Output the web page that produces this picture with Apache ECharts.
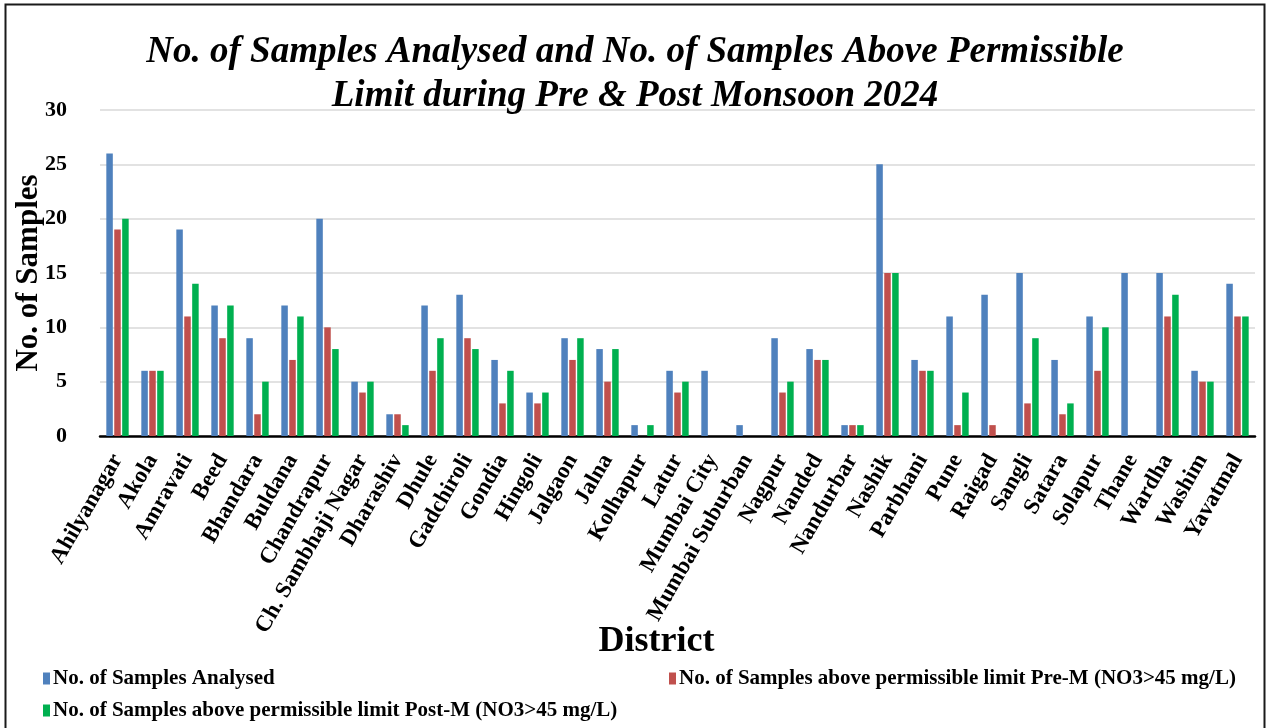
<!DOCTYPE html>
<html>
<head>
<meta charset="utf-8">
<script src="https://cdn.jsdelivr.net/npm/echarts@6/dist/echarts.min.js"></script>
<style>
html,body{margin:0;padding:0;background:#fff;}
#chart{width:1270px;height:728px;}
</style>
</head>
<body>
<div id="chart"></div>
<script>
const districts = ["Ahilyanagar","Akola","Amravati","Beed","Bhandara","Buldana","Chandrapur","Ch. Sambhaji Nagar","Dharashiv","Dhule","Gadchiroli","Gondia","Hingoli","Jalgaon","Jalna","Kolhapur","Latur","Mumbai City","Mumbai Suburban","Nagpur","Nanded","Nandurbar","Nashik","Parbhani","Pune","Raigad","Sangli","Satara","Solapur","Thane","Wardha","Washim","Yavatmal"];
const analysed = [26,6,19,12,9,12,20,5,2,12,13,7,4,9,8,1,6,6,1,9,8,1,25,7,11,13,15,7,11,15,15,6,14];
const preM     = [19,6,11,9,2,7,10,4,2,6,9,3,3,7,5,0,4,0,0,4,7,1,15,6,1,1,3,2,6,0,11,5,11];
const postM    = [20,6,14,12,5,11,8,5,1,9,8,6,4,9,8,1,5,0,0,5,7,1,15,6,4,0,9,3,10,0,13,5,11];
const seriesNames = ["No. of Samples Analysed","No. of Samples above permissible limit Pre-M (NO3>45 mg/L)","No. of Samples above permissible limit Post-M (NO3>45 mg/L)"];
const yTicks = [0,5,10,15,20,25,30];

const FONT = '"Liberation Serif","Times New Roman",serif';
const colors = ['#4F81BD','#C0504D','#00B050'];
const chart = echarts.init(document.getElementById('chart'), null, {renderer:'canvas'});

const legendCommon = {
  orient:'horizontal', icon:'rect', itemWidth:7, itemHeight:12, itemGap:6,
  textStyle:{fontFamily:FONT, fontWeight:'bold', fontSize:21, color:'#000', padding:[0,0,0,-2]},
  selectedMode:false
};

chart.setOption({
  animation:false,
  backgroundColor:'#fff',
  color:colors,
  title:{
    text:'No. of Samples Analysed and No. of Samples Above Permissible\nLimit during Pre & Post Monsoon 2024',
    left:'center', top:25,
    textStyle:{fontFamily:FONT, fontStyle:'italic', fontWeight:'bold', fontSize:37, lineHeight:44, color:'#000'}
  },
  graphic:[{
    type:'rect', silent:true,
    shape:{x:5.5, y:4.5, width:1259, height:740},
    style:{fill:'none', stroke:'#1a1a1a', lineWidth:2}
  }],
  legend:[
    Object.assign({data:[seriesNames[0]], left:38, top:663}, legendCommon),
    Object.assign({data:[seriesNames[1]], left:664, top:663}, legendCommon),
    Object.assign({data:[seriesNames[2]], left:38, top:695}, legendCommon)
  ],
  grid:{left:100, right:15, top:110, bottom:292, containLabel:false, outerBoundsMode:'none'},
  xAxis:{
    type:'category', data:districts,
    name:'District', nameLocation:'middle', nameGap:188, nameMoveOverlap:false,
    nameTextStyle:{fontFamily:FONT, fontWeight:'bold', fontSize:36, color:'#000', padding:[0,42,0,0]},
    axisLine:{lineStyle:{color:'#000', width:2.5}},
    axisTick:{show:false},
    axisLabel:{interval:0, rotate:60, margin:20, fontFamily:FONT, fontWeight:'bold', fontSize:23, color:'#000'}
  },
  yAxis:{
    type:'value', min:yTicks[0], max:yTicks[yTicks.length-1], interval:5,
    name:'No. of Samples', nameLocation:'middle', nameGap:56, nameMoveOverlap:false,
    nameTextStyle:{fontFamily:FONT, fontWeight:'bold', fontSize:31, color:'#000'},
    axisLine:{show:false}, axisTick:{show:false},
    axisLabel:{fontFamily:FONT, fontWeight:'bold', fontSize:22, color:'#000', margin:33},
    splitLine:{lineStyle:{color:'#d9d9d9', width:1.5}}
  },
  series:[
    {name:seriesNames[0], type:'bar', data:analysed, barWidth:6.5, barGap:'22%', itemStyle:{color:colors[0]}},
    {name:seriesNames[1], type:'bar', data:preM, barWidth:6.5, barGap:'22%', itemStyle:{color:colors[1]}},
    {name:seriesNames[2], type:'bar', data:postM, barWidth:6.5, barGap:'22%', itemStyle:{color:colors[2]}}
  ]
});
</script>
</body>
</html>
